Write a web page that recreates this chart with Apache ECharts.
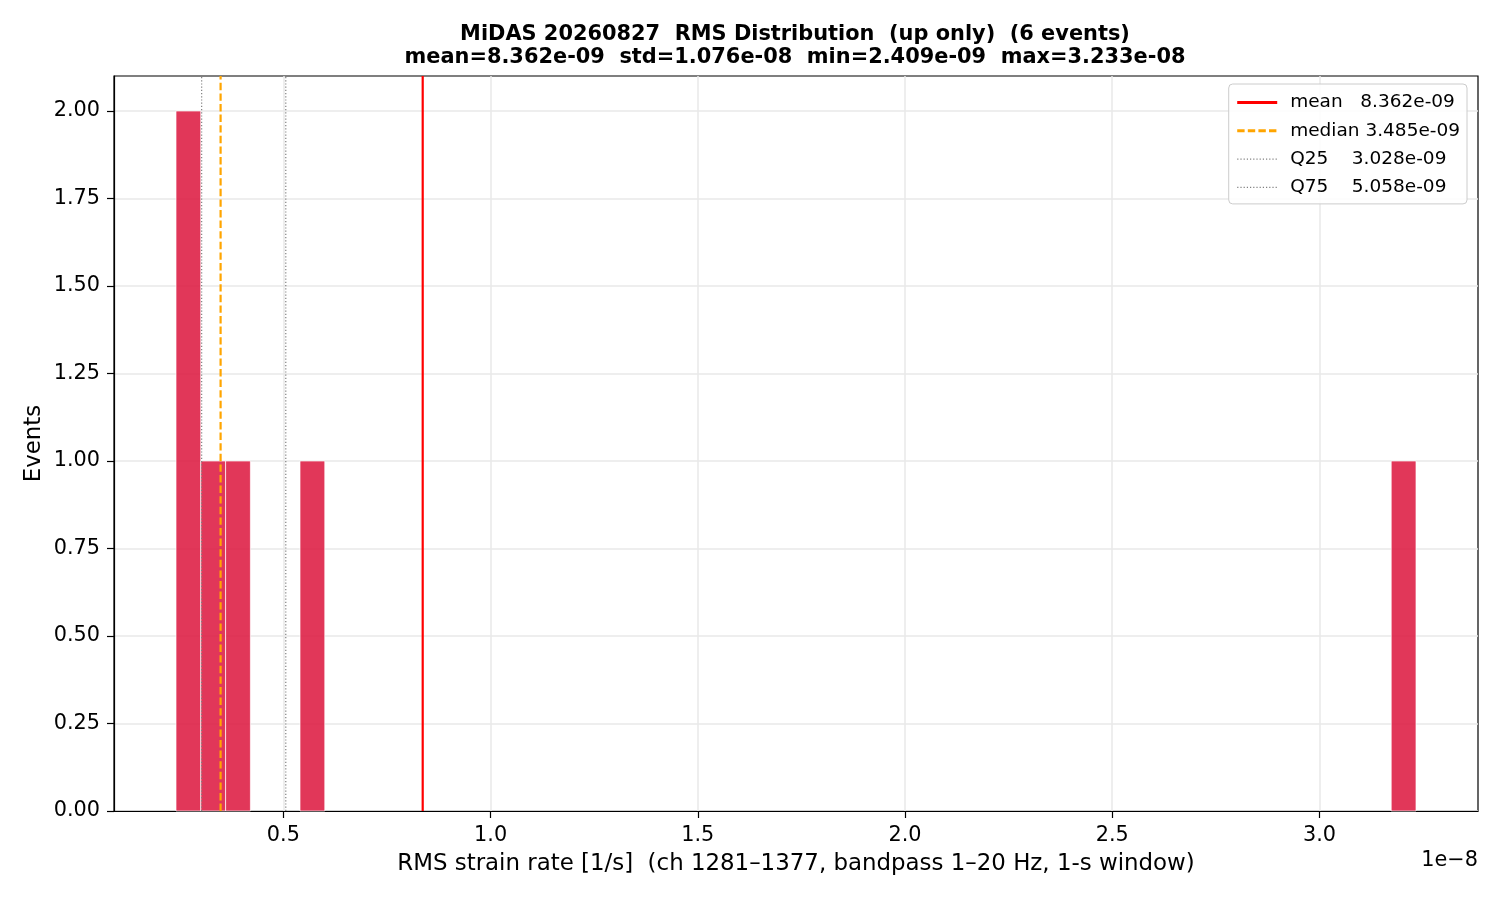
<!DOCTYPE html>
<html><head><meta charset="utf-8">
<script src="https://cdn.jsdelivr.net/npm/echarts@6/dist/echarts.min.js"></script>
<style>html,body{margin:0;padding:0;background:#fff}#chart{width:1500px;height:900px}</style>
</head><body><div id="chart"></div>
<script>
// ---- data ----
const runLabel = 'MiDAS 20260827';
const titleSuffix = 'RMS Distribution  (up only)';
const nEvents = 6;
const minValue = 2.409e-9;
const maxValue = 3.233e-8;
const stdValue = 1.076e-8;
// histogram: 50 equal bins between minValue and maxValue
const binCounts = [2,1,1,0,0,1,0,0,0,0, 0,0,0,0,0,0,0,0,0,0, 0,0,0,0,0,0,0,0,0,0, 0,0,0,0,0,0,0,0,0,0, 0,0,0,0,0,0,0,0,0,1];
const statNames = ['mean', 'median', 'Q25', 'Q75'];
const statLabels = ['mean   ', 'median ', 'Q25    ', 'Q75    '];
const statValues = [8.362e-9, 3.485e-9, 3.028e-9, 5.058e-9];
const xTicks = [0.5, 1.0, 1.5, 2.0, 2.5, 3.0];
const yTicks = [0, 0.25, 0.5, 0.75, 1.0, 1.25, 1.5, 1.75, 2.0];
const xLabel = 'RMS strain rate [1/s]  (ch 1281\u20131377, bandpass 1\u201320 Hz, 1-s window)';
const yLabel = 'Events';
const offsetText = '1e\u22128';

// ---- presentation ----
const SCALE = 1e-8;
const FONT = 'DejaVu Sans';
const statStyles = [
  {color: '#ff0000', width: 2.2, type: 'solid'},
  {color: '#ffa500', width: 2.2, type: [7.4, 3.2]},
  {color: '#808080', width: 1.2, type: [1.2, 2]},
  {color: '#808080', width: 1.2, type: [1.2, 2]}
];
const legendLineWidths = [3, 3, 1.3, 1.3];
function fmtE(v) {
  return v.toExponential(3).replace(/e([+-])(\d)$/, 'e$10$2');
}
const span = maxValue - minValue;
const xMin = (minValue - 0.05 * span) / SCALE;
const xMax = (maxValue + 0.05 * span) / SCALE;
const yMax = Math.max(...binCounts) * 1.05;
const binW = span / binCounts.length;
const histData = binCounts.map((c, i) => [(minValue + i * binW) / SCALE, (minValue + (i + 1) * binW) / SCALE, c]);

const meanV = statValues[0];
const titleText = runLabel + '  ' + titleSuffix + '  (' + nEvents + ' events)\n' +
  'mean=' + fmtE(meanV) + '  std=' + fmtE(stdValue) + '  min=' + fmtE(minValue) + '  max=' + fmtE(maxValue);

const legendNames = statLabels.map((l, i) => l + fmtE(statValues[i]));

const series = [{
  type: 'custom',
  name: 'hist',
  data: histData,
  encode: {x: [0, 1], y: 2},
  z: 2,
  silent: true,
  renderItem: function (params, api) {
    const c = api.value(2);
    if (!c) return null;
    const p0 = api.coord([api.value(0), c]);
    const p1 = api.coord([api.value(1), 0]);
    return {
      type: 'rect',
      shape: {x: p0[0], y: p0[1], width: p1[0] - p0[0], height: p1[1] - p0[1]},
      style: {fill: 'rgba(220,20,60,0.85)', stroke: '#ffffff', lineWidth: 0.7}
    };
  }
}];
statValues.forEach((v, i) => {
  series.push({
    type: 'line',
    name: legendNames[i],
    data: [[v / SCALE, 0], [v / SCALE, yMax]],
    symbol: 'none',
    silent: true,
    z: 3,
    lineStyle: statStyles[i],
    itemStyle: {color: statStyles[i].color}
  });
});

const chart = echarts.init(document.getElementById('chart'), null, {renderer: 'canvas'});
chart.setOption({
  animation: false,
  backgroundColor: '#ffffff',
  textStyle: {fontFamily: FONT},
  title: {
    text: titleText,
    left: 790,
    textAlign: 'center',
    top: 18,
    textStyle: {fontFamily: FONT, fontSize: 20.9, fontWeight: 'bold', color: '#000', lineHeight: 23}
  },
  legend: {
    data: legendNames.map((n, i) => ({
      name: n,
      lineStyle: {width: legendLineWidths[i], type: statStyles[i].type, color: statStyles[i].color}
    })),
    orient: 'vertical',
    right: 33,
    top: 84,
    padding: [8, 7, 6, 7],
    itemWidth: 40,
    itemHeight: 14,
    itemGap: 7.3,
    backgroundColor: 'rgba(255,255,255,0.85)',
    borderColor: '#cccccc',
    borderWidth: 1,
    borderRadius: 4,
    itemStyle: {opacity: 0},
    textStyle: {fontFamily: FONT, fontSize: 18.5, color: '#000', lineHeight: 21, padding: [0, 0, 0, 8]}
  },
  grid: {left: 114, right: 22, top: 76, bottom: 89, show: true, borderColor: '#000', borderWidth: 1.2, backgroundColor: 'transparent'},
  xAxis: {
    type: 'value',
    min: xMin,
    max: xMax,
    name: xLabel,
    nameLocation: 'middle',
    nameGap: 42,
    nameMoveOverlap: false,
    nameTextStyle: {fontFamily: FONT, fontSize: 22.9, color: '#000'},
    axisLine: {show: true, lineStyle: {color: '#000', width: 1.2}},
    axisTick: {show: true, customValues: xTicks, length: 7, lineStyle: {color: '#000', width: 1.2}},
    axisLabel: {customValues: xTicks, formatter: v => v.toFixed(1), fontFamily: FONT, fontSize: 20.8, color: '#000', margin: 14},
    splitLine: {show: true, lineStyle: {color: '#e8e8e8', width: 1.5}}
  },
  yAxis: {
    type: 'value',
    min: 0,
    max: yMax,
    interval: 0.25,
    name: yLabel,
    nameLocation: 'middle',
    nameGap: 68,
    nameMoveOverlap: false,
    nameTextStyle: {fontFamily: FONT, fontSize: 22.9, color: '#000'},
    axisLine: {show: true, lineStyle: {color: '#000', width: 1.2}},
    axisTick: {show: true, customValues: yTicks, length: 7, lineStyle: {color: '#000', width: 1.2}},
    axisLabel: {customValues: yTicks, formatter: v => v.toFixed(2), fontFamily: FONT, fontSize: 20.8, color: '#000', margin: 14},
    splitLine: {show: true, lineStyle: {color: '#e8e8e8', width: 1.5}}
  },
  graphic: [{
    type: 'text',
    right: 22,
    top: 850,
    style: {text: offsetText, fontFamily: FONT, fontSize: 20.8, fill: '#000'}
  }],
  series: series
});
</script></body></html>
